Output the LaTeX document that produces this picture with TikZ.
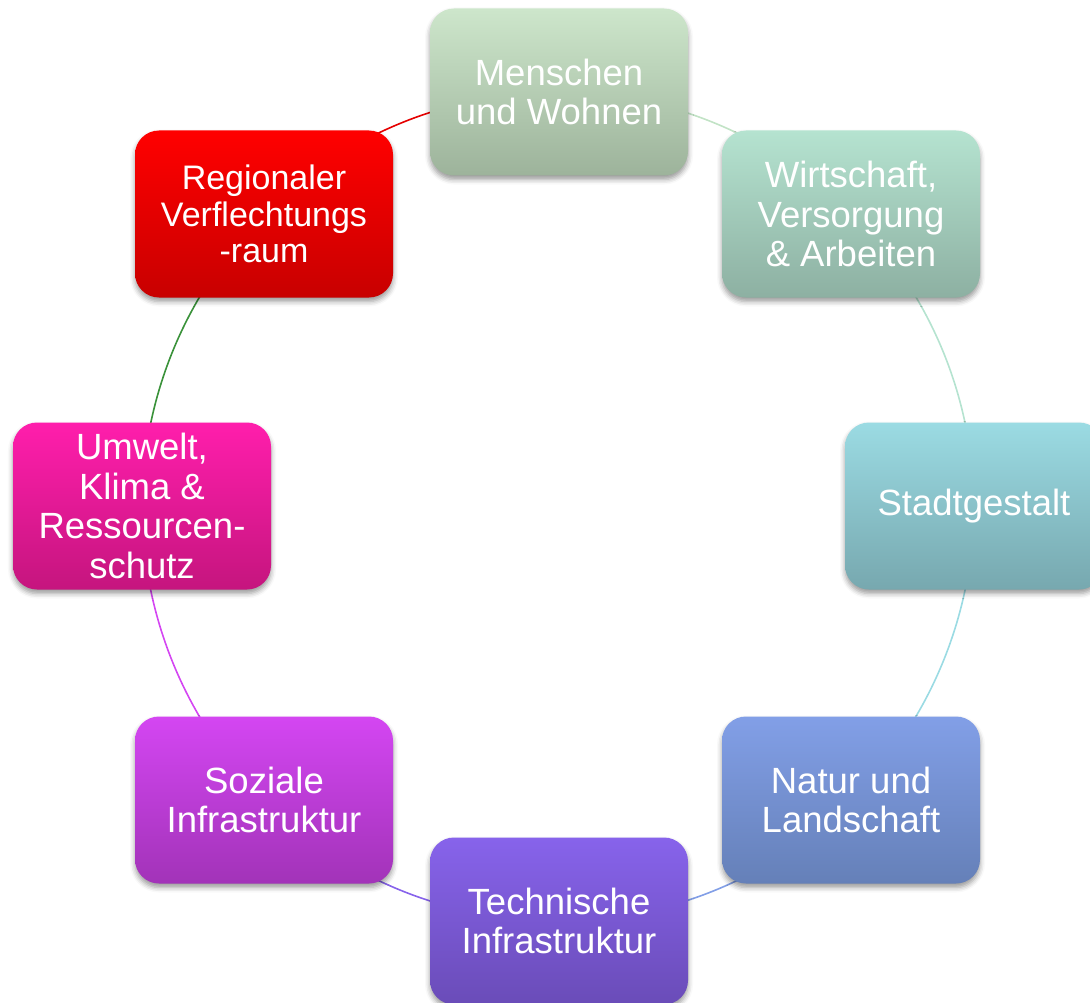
\documentclass[tikz,border=0pt]{standalone}
\usepackage{fontspec}
\setmainfont{Liberation Sans}
\usetikzlibrary{shadows.blur,backgrounds}

\definecolor{menschenTop}{HTML}{CDE6CB}  \definecolor{menschenBot}{HTML}{9DB39B}
\definecolor{wirtschaftTop}{HTML}{B5E3D0}\definecolor{wirtschaftBot}{HTML}{8DB0A2}
\definecolor{stadtTop}{HTML}{9BDBE3}     \definecolor{stadtBot}{HTML}{77A8AF}
\definecolor{naturTop}{HTML}{829FE7}     \definecolor{naturBot}{HTML}{6580B8}
\definecolor{technikTop}{HTML}{8763EB}   \definecolor{technikBot}{HTML}{6A4CB8}
\definecolor{sozialesTop}{HTML}{D446F2}  \definecolor{sozialesBot}{HTML}{A233B8}
\definecolor{umweltTop}{HTML}{FF1EAC}    \definecolor{umweltBot}{HTML}{C5157E}
\definecolor{regionTop}{HTML}{FF0000}    \definecolor{regionBot}{HTML}{C80000}
\definecolor{ringPale}{HTML}{C2E3C6}
\definecolor{ringGreen}{HTML}{3A923A}

\begin{document}
\begin{tikzpicture}[x=1pt, y=1pt,
		topic/.style={rounded corners=24pt, minimum width=258pt, minimum height=167pt,
			inner sep=0pt, align=center, text=white,
			font=\fontsize{36.5}{39.5}\selectfont,
			blur shadow={shadow xshift=0pt, shadow yshift=-4pt,
				shadow blur radius=5pt, shadow opacity=40}},
		ring/.style={line width=1.6pt, bend left=22.5, looseness=0.885}]
		\useasboundingbox (0, 0) rectangle (1090, -1003);
		
		\node[topic, top color=menschenTop, bottom color=menschenBot] (menschen) at (559, -92)
			{Menschen\\und Wohnen};
		\node[topic, top color=wirtschaftTop, bottom color=wirtschaftBot] (wirtschaft) at (851, -214)
			{Wirtschaft,\\Versorgung\\\& Arbeiten};
		\node[topic, top color=stadtTop, bottom color=stadtBot] (stadt) at (974, -506)
			{Stadtgestalt};
		\node[topic, top color=naturTop, bottom color=naturBot] (natur) at (851, -800)
			{Natur und\\Landschaft};
		\node[topic, top color=technikTop, bottom color=technikBot] (technik) at (559, -921)
			{Technische\\Infrastruktur};
		\node[topic, top color=sozialesTop, bottom color=sozialesBot] (soziales) at (264, -800)
			{Soziale\\Infrastruktur};
		\node[topic, top color=umweltTop, bottom color=umweltBot] (umwelt) at (142, -506)
			{Umwelt,\\Klima \&\\Ressourcen-\\schutz};
		\node[topic, top color=regionTop, bottom color=regionBot,
			font=\fontsize{34}{36.5}\selectfont] (region) at (264, -214)
			{Regionaler\\Verflechtungs\\-raum};
		
		\begin{scope}[on background layer]
			\draw[ring, ringPale] (menschen.center) to (wirtschaft.center);
			\draw[ring, wirtschaftTop] (wirtschaft.center) to (stadt.center);
			\draw[ring, stadtTop] (stadt.center) to (natur.center);
			\draw[ring, naturTop] (natur.center) to (technik.center);
			\draw[ring, technikTop] (technik.center) to (soziales.center);
			\draw[ring, sozialesTop] (soziales.center) to (umwelt.center);
			\draw[ring, ringGreen] (umwelt.center) to (region.center);
			\draw[ring, red!90!black] (region.center) to (menschen.center);
		\end{scope}
	\end{tikzpicture}
\end{document}
